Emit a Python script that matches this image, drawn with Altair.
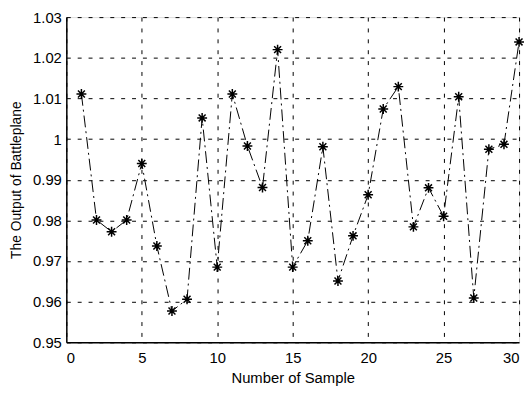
import altair as alt
import pandas as pd

samples = list(range(1, 31))
outputs = [1.0111, 0.9801, 0.9772, 0.9801, 0.9940, 0.9737, 0.9577, 0.9606, 1.0052, 0.9685,
           1.0111, 0.9983, 0.9881, 1.0220, 0.9685, 0.9750, 0.9981, 0.9651, 0.9762, 0.9863,
           1.0074, 1.0129, 0.9784, 0.9880, 0.9810, 1.0104, 0.9609, 0.9975, 0.9987, 1.0239]
x_ticks = [0, 5, 10, 15, 20, 25, 30]
y_ticks = [0.95, 0.96, 0.97, 0.98, 0.99, 1.00, 1.01, 1.02, 1.03]

df = pd.DataFrame({"x": samples, "y": outputs})

FONT = "Liberation Sans"
asterisk = "M-1,0L1,0M0,-1L0,1M-0.7,-0.7L0.7,0.7M-0.7,0.7L0.7,-0.7"

x_enc = alt.X("x:Q", scale=alt.Scale(domain=[0, 30], nice=False),
              axis=alt.Axis(values=x_ticks, title="Number of Sample", grid=True,
                            gridDash=[4, 7], gridColor="black", gridOpacity=1, gridWidth=1,
                            ticks=False, labelPadding=8, titlePadding=6,
                            domainColor="black", domainWidth=1.5,
                            labelFont=FONT, titleFont=FONT, labelFontSize=15, titleFontSize=15,
                            labelColor="black", titleColor="black", titleFontWeight="normal"))
y_enc = alt.Y("y:Q", scale=alt.Scale(domain=[0.95, 1.03], nice=False, zero=False),
              axis=alt.Axis(values=y_ticks, title="The Output of Battleplane", grid=True,
                            gridDash=[4, 7], gridColor="black", gridOpacity=1, gridWidth=1,
                            ticks=False, labelPadding=5, titlePadding=9,
                            labelExpr="datum.value == 1 ? '1' : format(datum.value, '.2f')",
                            domainColor="black", domainWidth=1.5,
                            labelFont=FONT, titleFont=FONT, labelFontSize=15, titleFontSize=14,
                            labelColor="black", titleColor="black", titleFontWeight="normal"))

line = alt.Chart(df).mark_line(color="black", strokeWidth=1, strokeDash=[12, 4, 2, 4]).encode(x=x_enc, y=y_enc)
pts = alt.Chart(df).mark_point(shape=asterisk, size=100, color="black", strokeWidth=1.5,
                               filled=False, opacity=1).encode(x="x:Q", y="y:Q")

chart = (line + pts).properties(
    width=458, height=329,
    padding={"left": 59, "top": 7, "right": 5, "bottom": 45},
    autosize="none",
).configure_view(stroke="black", strokeWidth=1.5).configure(background="white")

chart.save("out.html", embed_options={"renderer": "svg", "actions": False})
